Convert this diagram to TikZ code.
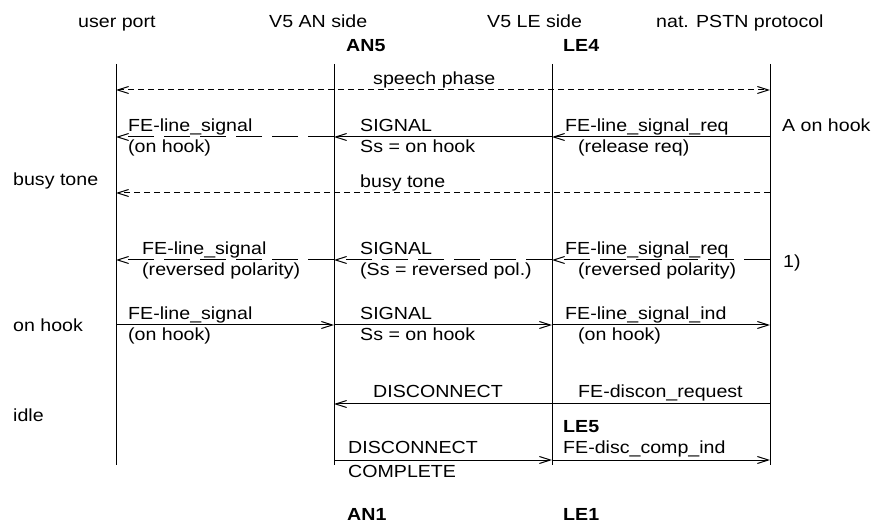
\documentclass[tikz,border=0pt]{standalone}
\usepackage{fontspec}
\setmainfont{Liberation Sans}[FakeStretch=1.12]
\usetikzlibrary{arrows.meta}
\begin{document}
\begin{tikzpicture}[x=1pt,y=1pt,
  txt/.style={inner sep=0pt, anchor=base west, font=\fontsize{17.5}{20}\selectfont},
  hdr/.style={txt, font=\fontsize{17.5}{20}\selectfont\bfseries},
  life/.style={line width=1pt},
  wire/.style={line width=1pt},
  msg/.style={wire, -{Straight Barb[length=11pt,width=7pt]}},
  both/.style={wire, {Straight Barb[length=11pt,width=7pt]}-{Straight Barb[length=11pt,width=7pt]}},
  shortdash/.style={dash pattern=on 6pt off 4pt},
  longdash/.style={dash pattern=on 26pt off 10pt}]
\useasboundingbox (0,0) rectangle (872,522);

% lifeline positions
\def\xU{116}\def\xA{334}\def\xL{552}\def\xP{770}
\foreach \n/\x in {u/\xU, a/\xA, l/\xL, p/\xP}{
  \coordinate (\n T) at (\x,458);
  \coordinate (\n B) at (\x,57);
  \foreach \r/\y in {1/432, 2/385, 3/329, 4/262, 5/197, 6/118, 7/62}{
    \coordinate (\n\r) at (\x,\y);
  }
}

% lifelines
\draw[life] (uT) -- (uB);
\draw[life] (aT) -- (aB);
\draw[life] (lT) -- (lB);
\draw[life] (pT) -- (pB);

% column headings
\node[txt] (hU) at (78,494) {user port};
\node[txt] (hA) at (269,494) {V5 AN side};
\node[txt] (hL) at (487,494) {V5 LE side};
\node[txt] (hP) at (656,494) {nat. PSTN protocol};
\node[hdr] (an5) at (346,470) {AN5};
\node[hdr] (le4) at (563,470) {LE4};

% speech phase
\draw[both, shortdash] (u1) -- (p1);
\node[txt] (sp) at (373,437) {speech phase};

% A on hook
\draw[msg] (p2) -- (l2);
\draw[msg] (l2) -- (a2);
\draw[msg, longdash] (a2) -- (u2);
\node[txt] (m2a) at (128,390) {FE-line\_signal};
\node[txt] (m2b) at (128,369) {(on hook)};
\node[txt] (m2c) at (360,390) {SIGNAL};
\node[txt] (m2d) at (360,369) {Ss = on hook};
\node[txt] (m2e) at (565,390) {FE-line\_signal\_req};
\node[txt] (m2f) at (578,369) {(release req)};
\node[txt] (m2g) at (782,390) {A on hook};

% busy tone
\draw[msg, shortdash] (p3) -- (u3);
\node[txt] (m3a) at (360,334) {busy tone};
\node[txt] (m3b) at (13,336) {busy tone};

% reversed polarity
\draw[msg, longdash] (p4) -- (l4);
\draw[msg, longdash] (l4) -- (a4);
\draw[msg, longdash] (a4) -- (u4);
\node[txt] (m4a) at (142,267) {FE-line\_signal};
\node[txt] (m4b) at (142,246) {(reversed polarity)};
\node[txt] (m4c) at (360,267) {SIGNAL};
\node[txt] (m4d) at (360,246) {(Ss = reversed pol.)};
\node[txt] (m4e) at (565,267) {FE-line\_signal\_req};
\node[txt] (m4f) at (578,246) {(reversed polarity)};
\node[txt] (m4g) at (783,254) {1)};

% on hook towards the exchange
\draw[msg] (u5) -- (a5);
\draw[msg] (a5) -- (l5);
\draw[msg] (l5) -- (p5);
\node[txt] (m5a) at (128,202) {FE-line\_signal};
\node[txt] (m5b) at (128,181) {(on hook)};
\node[txt] (m5c) at (360,202) {SIGNAL};
\node[txt] (m5d) at (360,181) {Ss = on hook};
\node[txt] (m5e) at (565,202) {FE-line\_signal\_ind};
\node[txt] (m5f) at (578,181) {(on hook)};
\node[txt] (m5g) at (13,190) {on hook};

% disconnect
\draw[msg] (p6) -- (a6);
\node[txt] (m6a) at (373,124) {DISCONNECT};
\node[txt] (m6b) at (578,124) {FE-discon\_request};
\node[txt] (m6c) at (13,100) {idle};

% disconnect complete
\draw[msg] (a7) -- (l7);
\draw[msg] (l7) -- (p7);
\node[txt] (m7a) at (348,69) {DISCONNECT};
\node[txt] (m7b) at (348,45) {COMPLETE};
\node[hdr] (le5) at (563,90) {LE5};
\node[txt] (m7c) at (563,69) {FE-disc\_comp\_ind};

% final states
\node[hdr] (an1) at (347,2) {AN1};
\node[hdr] (le1) at (563,2) {LE1};
\end{tikzpicture}
\end{document}
